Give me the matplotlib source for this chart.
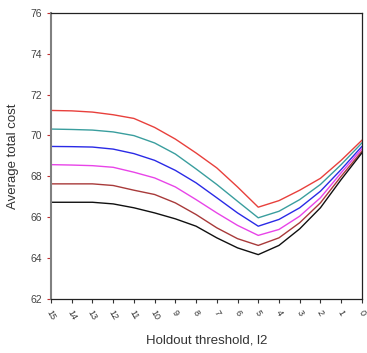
import matplotlib
matplotlib.use("Agg")
import matplotlib.pyplot as plt

plt.rcParams["font.family"] = ["Liberation Sans", "DejaVu Sans"]

thresholds = ["15", "14", "13", "12", "11", "10", "9", "8", "7", "6", "5", "4", "3", "2", "1", "0"]

red     = [71.22, 71.20, 71.14, 71.01, 70.83, 70.39, 69.82, 69.14, 68.41, 67.48, 66.49, 66.81, 67.32, 67.90, 68.78, 69.76]
teal    = [70.31, 70.29, 70.26, 70.17, 69.99, 69.63, 69.09, 68.36, 67.60, 66.78, 65.97, 66.29, 66.86, 67.60, 68.57, 69.63]
blue    = [69.46, 69.45, 69.43, 69.33, 69.11, 68.78, 68.29, 67.68, 66.95, 66.21, 65.56, 65.89, 66.46, 67.27, 68.33, 69.46]
magenta = [68.57, 68.55, 68.52, 68.44, 68.20, 67.92, 67.48, 66.86, 66.21, 65.60, 65.11, 65.40, 66.05, 66.95, 68.17, 69.34]
brown   = [67.63, 67.63, 67.63, 67.55, 67.32, 67.11, 66.70, 66.13, 65.48, 64.95, 64.62, 64.99, 65.73, 66.70, 68.00, 69.22]
black   = [66.73, 66.73, 66.73, 66.65, 66.46, 66.21, 65.92, 65.56, 64.99, 64.50, 64.17, 64.62, 65.43, 66.46, 67.84, 69.14]

series = [red, teal, blue, magenta, brown, black]
colors = ["#e8403c", "#3a9e9e", "#2a2ae6", "#e844e8", "#a83a3a", "#101010"]

fig = plt.figure(figsize=(3.67, 3.53), dpi=100)
ax = fig.add_axes([0.139, 0.153, 0.847, 0.811])

x = list(range(len(thresholds)))
for s, c in zip(series, colors):
    ax.plot(x, s, color=c, lw=1.0)

ax.set_xlim(0, len(thresholds) - 1)
ax.set_ylim(62, 76)
ax.set_yticks(range(62, 77, 2))
ax.set_xticks(x)
ax.set_xticklabels(thresholds, rotation=-60, fontsize=6.5, ha="center", va="top", color="#333333")
ax.tick_params(axis="y", labelsize=7.5, colors="#c03030", labelcolor="#444444", length=3, width=0.8)
ax.tick_params(axis="x", length=3, width=0.8, colors="#333333", pad=4)

for side in ["top", "right", "bottom"]:
    ax.spines[side].set_color("#222222")
    ax.spines[side].set_linewidth(0.9)
ax.spines["left"].set_color("#808080")
ax.spines["left"].set_linewidth(1.5)

ax.set_ylabel("Average total cost", fontsize=9.5, color="#333333", labelpad=8)
ax.set_xlabel("Holdout threshold, l2", fontsize=9.5, color="#333333", labelpad=9)

fig.savefig("out.png", dpi=100)
